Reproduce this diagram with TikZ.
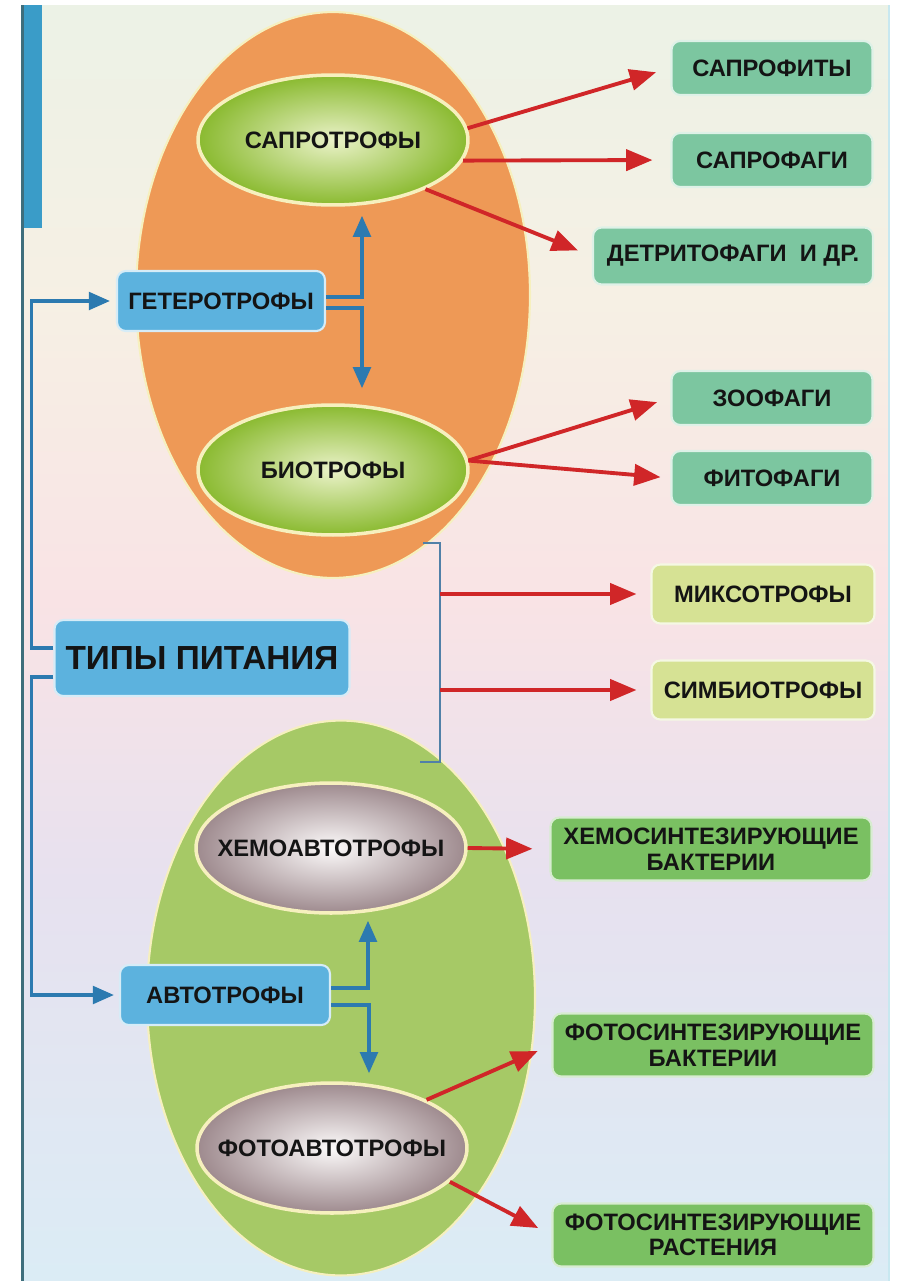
\documentclass[tikz,border=0pt]{standalone}
\usepackage{fontspec}
\setmainfont{Liberation Sans}
\usepackage{tikz}
\usetikzlibrary{shapes.geometric,arrows.meta,positioning}
\definecolor{bgA}{RGB}{236,242,230}
\definecolor{bgB}{RGB}{246,240,228}
\definecolor{bgC}{RGB}{249,227,229}
\definecolor{bgD}{RGB}{231,225,239}
\definecolor{bgE}{RGB}{219,236,245}
\definecolor{framec}{RGB}{62,110,124}
\definecolor{stripc}{RGB}{58,156,200}
\definecolor{edgec}{RGB}{200,232,240}
\definecolor{orangec}{RGB}{238,153,86}
\definecolor{leafzone}{RGB}{166,201,102}
\definecolor{creamc}{RGB}{246,240,190}
\definecolor{skyc}{RGB}{92,178,222}
\definecolor{tealc}{RGB}{124,198,160}
\definecolor{limec}{RGB}{214,226,148}
\definecolor{leafc}{RGB}{122,192,98}
\definecolor{redc}{RGB}{208,38,40}
\definecolor{bluec}{RGB}{44,122,176}
\definecolor{brackc}{RGB}{80,128,168}
\definecolor{inkc}{RGB}{20,20,20}
\definecolor{sapIn}{RGB}{234,242,200}
\definecolor{sapOut}{RGB}{138,186,48}
\definecolor{autoIn}{RGB}{252,250,250}
\definecolor{autoOut}{RGB}{158,138,142}
\def\lab{\fontsize{13.5}{14.5}\selectfont\bfseries}
\def\biglab{\fontsize{19}{22}\selectfont\bfseries}
\def\ctr#1{\makebox[0pt]{#1}}
\tikzstyle{zone}=[ellipse,inner sep=0pt,draw=creamc,line width=1.2pt]
\tikzstyle{kind}=[ellipse,inner sep=0pt,draw=creamc,line width=2pt,text=inkc,font=\lab,minimum width=5.4cm,minimum height=2.6cm]
\tikzstyle{greenkind}=[kind,inner color=sapIn,outer color=sapOut]
\tikzstyle{greykind}=[kind,inner color=autoIn,outer color=autoOut]
\tikzstyle{tbox}=[rounded corners=5pt,inner sep=0pt,align=center,text=inkc,font=\lab,line width=1.2pt]
\tikzstyle{bluebox}=[tbox,fill=skyc,draw=white!75!skyc,minimum width=4.16cm,minimum height=1.2cm]
\tikzstyle{tealbox}=[tbox,fill=tealc,draw=white!75!tealc,minimum width=4.02cm,minimum height=1.08cm]
\tikzstyle{limebox}=[tbox,fill=limec,draw=white!75!limec,minimum width=4.46cm,minimum height=1.18cm]
\tikzstyle{leafbox}=[tbox,fill=leafc,draw=white!70!leafc,minimum width=6.42cm,minimum height=1.26cm]
\tikzstyle{redarrow}=[draw=redc,line width=2.2pt,-{Triangle[length=15pt,width=12pt]}]
\tikzstyle{bluearrow}=[draw=bluec,line width=2pt,-{Triangle[length=12pt,width=10pt]}]

\begin{document}
\begin{tikzpicture}[x=0.02cm,y=-0.02cm]
    \useasboundingbox (0,0) rectangle (897,1281);
    \fill[white] (0,0) rectangle (897,1281);
    \shade[top color=bgA,bottom color=bgB] (23,5) rectangle (889,301);
    \shade[top color=bgB,bottom color=bgC] (23,300) rectangle (889,601);
    \shade[top color=bgC,bottom color=bgD] (23,600) rectangle (889,881);
    \shade[top color=bgD,bottom color=bgE] (23,880) rectangle (889,1281);
    \fill[framec] (21,5) rectangle (24,1281);
    \fill[stripc] (24,5) rectangle (42,228);
    \draw[edgec,line width=1pt] (889,5) -- (889,1281);

    \node[zone,fill=orangec,minimum width=7.88cm,minimum height=11.32cm] (heteroZone) at (333,295) {};
    \node[zone,fill=leafzone,minimum width=7.76cm,minimum height=11.1cm] (autoZone) at (341,998) {};

    \node[greenkind] (saprotrof) at (333,140) {\ctr{САПРОТРОФЫ}};
    \node[greenkind] (biotrof) at (333,470) {\ctr{БИОТРОФЫ}};
    \node[greykind] (chemo) at (331,848) {\ctr{ХЕМОАВТОТРОФЫ}};
    \node[greykind] (photo) at (332,1148) {\ctr{ФОТОАВТОТРОФЫ}};

    \node[bluebox] (hetero) at (221,301) {ГЕТЕРОТРОФЫ};
    \node[bluebox,minimum width=5.9cm,minimum height=1.52cm,font=\biglab] (types) at (202,658) {ТИПЫ ПИТАНИЯ};
    \node[bluebox,minimum width=4.2cm] (auto) at (225,995) {АВТОТРОФЫ};

    \node[tealbox] (saprofity) at (772,68) {САПРОФИТЫ};
    \node[tealbox] (saprofagi) at (772,160) {САПРОФАГИ};
    \node[tealbox,minimum width=5.6cm,minimum height=1.14cm] (detrit) at (733,256) {ДЕТРИТОФАГИ\ \ И ДР.};
    \node[tealbox] (zoofagi) at (772,398) {ЗООФАГИ};
    \node[tealbox] (fitofagi) at (772,478) {ФИТОФАГИ};
    \node[limebox] (mixo) at (763,594) {МИКСОТРОФЫ};
    \node[limebox] (symbio) at (763,690) {СИМБИОТРОФЫ};
    \node[leafbox] (chemoBact) at (711,849) {ХЕМОСИНТЕЗИРУЮЩИЕ\\БАКТЕРИИ};
    \node[leafbox] (photoBact) at (713,1045) {ФОТОСИНТЕЗИРУЮЩИЕ\\БАКТЕРИИ};
    \node[leafbox] (photoPlant) at (713,1235) {ФОТОСИНТЕЗИРУЮЩИЕ\\РАСТЕНИЯ};

    \coordinate (brTop) at (440,543);
    \coordinate (brBot) at (440,762);
    \draw[brackc,line width=1.6pt] ([xshift=-0.34cm]brTop) -- (brTop) -- (brBot) -- ([xshift=-0.4cm]brBot);

    \draw[redarrow,shorten >=0.3cm] (saprotrof.5) -- (saprofity.west);
    \draw[redarrow,shorten >=0.36cm] (saprotrof.-9) -- (saprofagi.west);
    \draw[redarrow,shorten >=0.3cm] (saprotrof.-28) -- (detrit.west);
    \draw[redarrow,shorten >=0.28cm] (biotrof.4) -- (zoofagi.west);
    \draw[redarrow,shorten >=0.2cm] (biotrof.4) -- (fitofagi.west);
    \draw[redarrow,shorten >=0.28cm] (brTop |- mixo.west) -- (mixo.west);
    \draw[redarrow,shorten >=0.28cm] (brTop |- symbio.west) -- (symbio.west);
    \draw[redarrow,shorten >=0.34cm] (chemo.east) -- (chemoBact.west);
    \draw[redarrow,shorten >=0.3cm] (photo.27) -- (photoBact.west);
    \draw[redarrow,shorten >=0.3cm] (photo.-16) -- (photoPlant.west);

    \draw[bluearrow,shorten >=0.12cm] ([yshift=0.2cm]types.west) -- ++(-22,0) |- (hetero.west);
    \draw[bluearrow,shorten >=0.1cm] ([yshift=-0.38cm]types.west) -- ++(-22,0) |- (auto.west);
    \draw[bluearrow,shorten >=0.18cm] ([yshift=0.08cm]hetero.east) -| ([xshift=0.58cm]saprotrof.south);
    \draw[bluearrow,shorten >=0.3cm] ([yshift=-0.14cm]hetero.east) -| ([xshift=0.58cm]biotrof.north);
    \draw[bluearrow,shorten >=0.12cm] ([yshift=0.14cm]auto.east) -| ([xshift=0.74cm]chemo.south);
    \draw[bluearrow,shorten >=0.16cm] ([yshift=-0.2cm]auto.east) -| ([xshift=0.74cm]photo.north);
  \end{tikzpicture}
\end{document}
